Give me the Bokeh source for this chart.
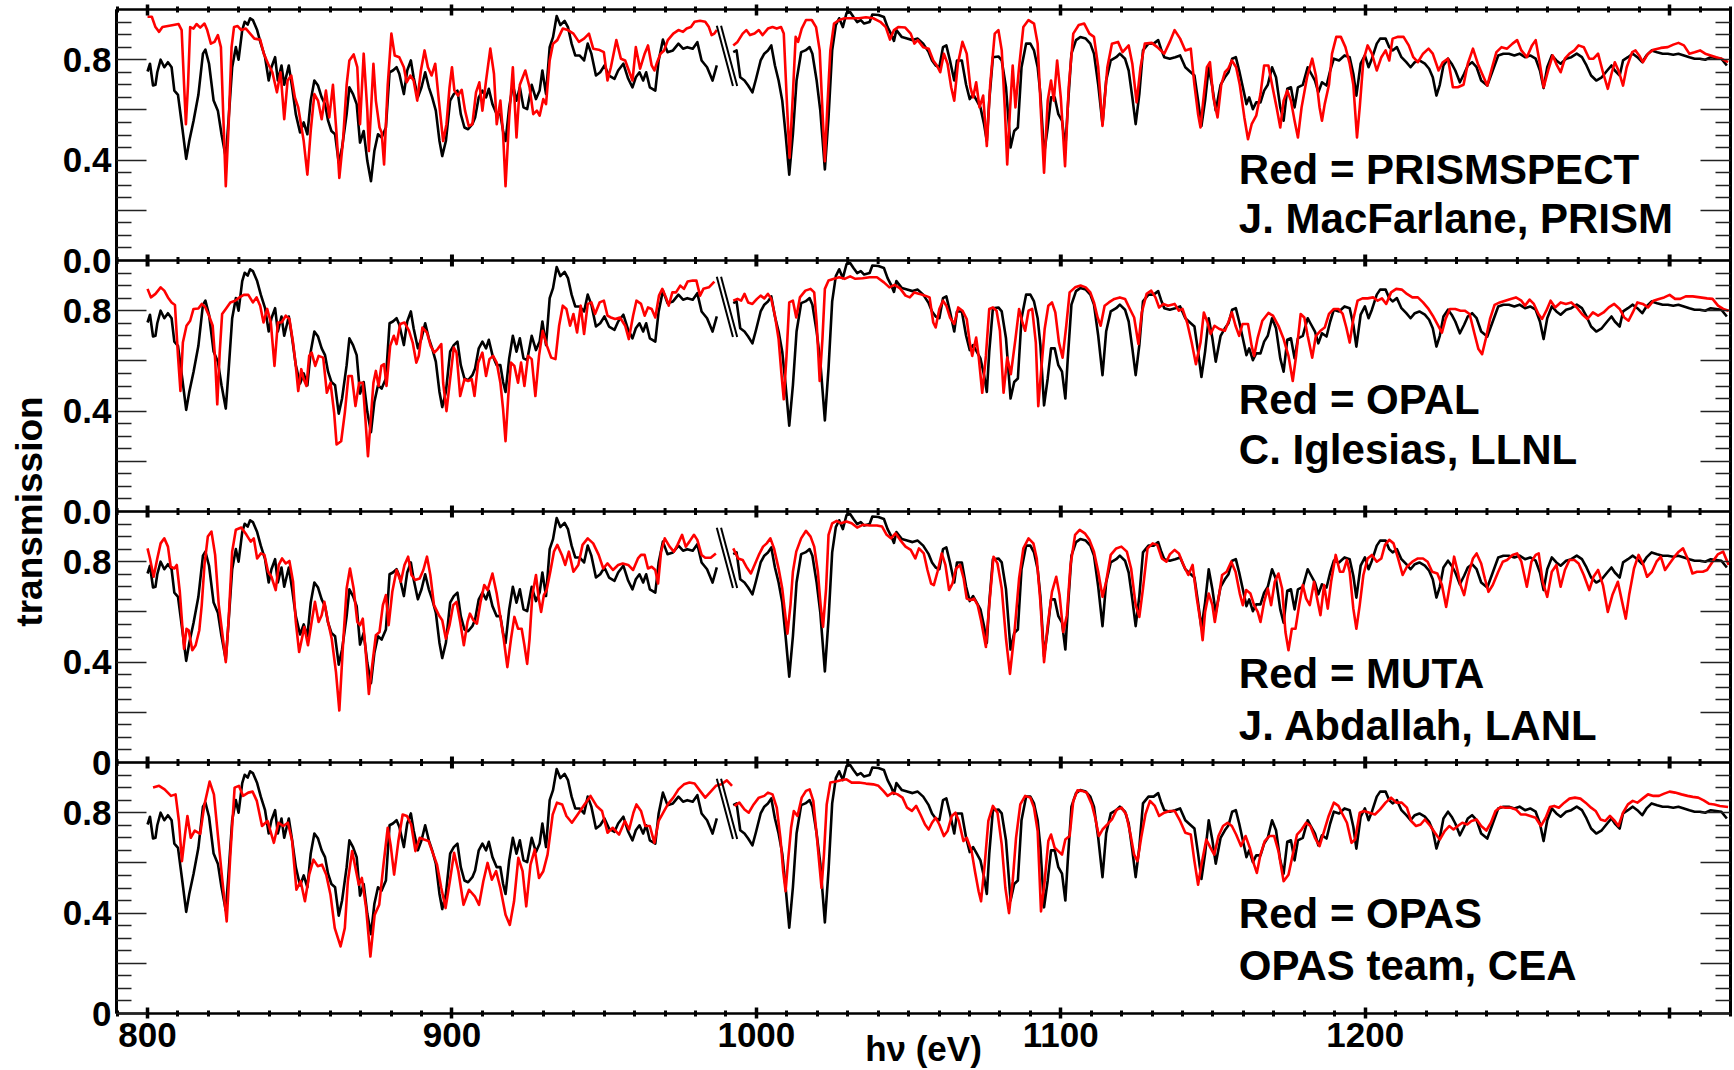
import numpy as np
from bokeh.plotting import figure
from bokeh.models import Range1d, LinearAxis, FixedTicker, Label, Span
from bokeh.embed import file_html
from bokeh.resources import INLINE

NAN = float("nan")
FONT = "Liberation Sans"

# ---------------------------------------------------------------- data
# measured transmission (black), the same spectrum in every panel
MEASURED_E = [
    800.0, 800.8, 801.8, 802.6, 803.2, 804.3, 805.5, 806.7, 807.9, 808.8, 810.0, 811.4, 812.7, 813.7,
    815.1, 816.7, 818.2, 819.0, 820.2, 821.7, 823.1, 824.3, 825.7, 826.6, 827.8, 829.0, 829.9, 831.1,
    831.9, 832.9, 833.7, 834.6, 836.0, 837.2, 838.6, 839.8, 840.7, 841.9, 842.8, 844.0, 844.9, 846.4,
    847.5, 848.7, 850.1, 851.3, 852.5, 853.6, 854.8, 856.0, 857.2, 858.3, 859.3, 860.4, 861.6, 862.8,
    863.9, 865.4, 866.3, 867.5, 868.7, 869.8, 871.0, 872.2, 873.4, 874.5, 875.7, 876.9, 878.3, 879.5,
    880.6, 881.8, 882.7, 884.2, 885.3, 886.5, 887.4, 888.8, 890.0, 891.2, 892.4, 893.5, 894.7, 895.9,
    896.8, 898.0, 899.4, 900.6, 901.8, 902.9, 904.1, 905.3, 906.7, 907.6, 908.8, 910.0, 911.2, 912.1,
    913.3, 914.7, 915.9, 916.8, 917.6, 918.8, 920.0, 921.2, 922.3, 923.5, 924.7, 926.2, 927.6, 928.8,
    929.7, 930.9, 932.1, 933.2, 934.4, 935.6, 937.0, 938.1, 939.3, 940.5, 941.9, 943.4, 944.6, 945.8,
    947.3, 948.7, 950.1, 951.6, 953.4, 954.6, 956.3, 957.9, 959.3, 960.4, 961.6, 962.8, 963.8, 965.0,
    966.8, 967.9, 969.3, 970.8, 972.6, 974.4, 975.9, 977.3, 979.1, 980.6, 982.0, 983.8, 985.6, 987.0,
    NAN,
    992.4, 993.5, 994.7, 996.1, 997.3, 998.7, 999.9, 1001.4, 1002.6, 1003.8, 1004.9, 1006.1, 1007.3,
    1008.5, 1009.6, 1010.8, 1012.0, 1013.2, 1014.7, 1016.1, 1017.5, 1018.4, 1019.8, 1021.0, 1022.5,
    1023.7, 1024.9, 1026.1, 1027.2, 1028.4, 1029.6, 1030.8, 1031.9, 1033.1, 1034.3, 1035.4, 1037.2,
    1038.1, 1040.1, 1041.9, 1043.1, 1044.2, 1045.2, 1046.0, 1047.8, 1049.5, 1051.3, 1053.0, 1054.8,
    1056.6, 1057.7, 1058.9, 1060.1, 1061.3, 1062.4, 1063.6, 1065.0, 1065.9, 1067.5, 1068.9, 1070.1,
    1071.2, 1072.4, 1073.6, 1074.8, 1075.7, 1076.5, 1077.7, 1079.5, 1080.6, 1082.0, 1083.5, 1084.7,
    1085.9, 1087.1, 1088.6, 1090.0, 1091.2, 1092.4, 1093.3, 1094.5, 1095.7, 1096.8, 1098.0, 1099.2,
    1100.4, 1101.5, 1102.3, 1103.5, 1105.0, 1106.4, 1108.2, 1109.7, 1110.9, 1112.3, 1113.7, 1114.9,
    1116.4, 1118.2, 1119.4, 1121.1, 1122.3, 1123.5, 1124.6, 1125.8, 1127.0, 1128.8, 1130.5, 1132.0,
    1132.9, 1134.0, 1135.8, 1137.6, 1139.2, 1140.9, 1142.7, 1143.9, 1145.1, 1146.2, 1147.4, 1148.6,
    1149.8, 1150.9, 1152.5, 1153.9, 1155.1, 1156.3, 1157.5, 1158.6, 1159.8, 1161.0, 1161.9, 1163.1,
    1164.2, 1165.6, 1166.8, 1168.0, 1169.4, 1170.7, 1172.1, 1173.2, 1174.4, 1175.6, 1176.8, 1177.9,
    1179.5, 1181.1, 1182.0, 1183.5, 1184.6, 1185.8, 1187.3, 1188.5, 1189.7, 1191.4, 1193.2, 1194.9,
    1196.1, 1197.1, 1198.5, 1199.9, 1201.1, 1202.2, 1203.8, 1204.9, 1206.7, 1207.9, 1209.0, 1210.4,
    1211.9, 1213.5, 1214.9, 1216.3, 1217.8, 1219.6, 1221.0, 1222.2, 1223.4, 1224.5, 1225.7, 1227.2,
    1228.4, 1229.6, 1231.1, 1232.5, 1233.7, 1235.1, 1236.6, 1238.1, 1240.1, 1241.9, 1243.7, 1245.4,
    1247.2, 1249.0, 1250.7, 1252.5, 1254.2, 1256.0, 1257.4, 1258.6, 1259.8, 1261.3, 1262.8, 1264.2,
    1266.0, 1267.7, 1269.5, 1271.2, 1272.7, 1274.2, 1275.9, 1277.7, 1279.5, 1280.9, 1282.0, 1283.6,
    1284.7, 1286.3, 1287.9, 1289.4, 1291.0, 1292.4, 1294.1, 1295.9, 1297.7, 1299.4, 1301.2, 1302.9,
    1304.7, 1306.5, 1308.2, 1310.0, 1311.7, 1313.5, 1315.3, 1317.0, 1318.8,
]
MEASURED_T = [
    0.753, 0.784, 0.697, 0.700, 0.750, 0.800, 0.770, 0.790, 0.770, 0.677, 0.660, 0.530, 0.405, 0.476,
    0.556, 0.660, 0.824, 0.840, 0.784, 0.637, 0.597, 0.503, 0.410, 0.557, 0.770, 0.850, 0.800, 0.918,
    0.951, 0.940, 0.965, 0.958, 0.918, 0.864, 0.810, 0.717, 0.770, 0.810, 0.717, 0.777, 0.700, 0.777,
    0.690, 0.583, 0.510, 0.550, 0.503, 0.637, 0.717, 0.697, 0.650, 0.623, 0.557, 0.516, 0.503, 0.390,
    0.450, 0.583, 0.690, 0.663, 0.623, 0.470, 0.516, 0.396, 0.316, 0.436, 0.503, 0.490, 0.530, 0.750,
    0.757, 0.770, 0.744, 0.663, 0.757, 0.797, 0.730, 0.650, 0.690, 0.750, 0.690, 0.650, 0.597, 0.476,
    0.416, 0.476, 0.637, 0.663, 0.677, 0.583, 0.530, 0.523, 0.543, 0.570, 0.650, 0.677, 0.650, 0.684,
    0.623, 0.583, 0.583, 0.516, 0.476, 0.610, 0.700, 0.637, 0.690, 0.610, 0.603, 0.700, 0.643, 0.677,
    0.757, 0.663, 0.850, 0.890, 0.974, 0.938, 0.955, 0.930, 0.864, 0.817, 0.817, 0.797, 0.864, 0.824,
    0.737, 0.750, 0.777, 0.737, 0.724, 0.757, 0.784, 0.724, 0.690, 0.730, 0.750, 0.717, 0.750, 0.690,
    0.677, 0.797, 0.880, 0.830, 0.837, 0.864, 0.844, 0.850, 0.844, 0.870, 0.797, 0.770, 0.717, 0.777,
    NAN,
    0.830, 0.837, 0.730, 0.717, 0.697, 0.670, 0.724, 0.797, 0.824, 0.837, 0.857, 0.777, 0.717,
    0.637, 0.503, 0.342, 0.503, 0.717, 0.830, 0.837, 0.850, 0.824, 0.717, 0.597, 0.363,
    0.570, 0.837, 0.938, 0.965, 0.930, 0.985, 0.990, 0.970, 0.950, 0.958, 0.944, 0.950,
    0.980, 0.978, 0.970, 0.930, 0.904, 0.875, 0.918, 0.890, 0.884, 0.878, 0.884, 0.864,
    0.830, 0.797, 0.777, 0.770, 0.850, 0.857, 0.797, 0.717, 0.797, 0.797, 0.700, 0.643,
    0.663, 0.637, 0.610, 0.543, 0.476, 0.637, 0.810, 0.813, 0.797, 0.690, 0.450, 0.516,
    0.530, 0.770, 0.864, 0.864, 0.837, 0.770, 0.663, 0.423, 0.530, 0.650, 0.650, 0.583,
    0.557, 0.450, 0.610, 0.824, 0.878, 0.890, 0.884, 0.864, 0.824, 0.700, 0.543, 0.717,
    0.797, 0.810, 0.824, 0.804, 0.757, 0.650, 0.543, 0.663, 0.837, 0.864, 0.864, 0.878,
    0.844, 0.810, 0.804, 0.810, 0.817, 0.770, 0.750, 0.737, 0.637, 0.536, 0.637, 0.770,
    0.690, 0.597, 0.700, 0.730, 0.750, 0.804, 0.810, 0.757, 0.690, 0.623, 0.650, 0.603,
    0.630, 0.630, 0.677, 0.700, 0.770, 0.730, 0.610, 0.557, 0.684, 0.690, 0.610, 0.690,
    0.700, 0.770, 0.750, 0.717, 0.670, 0.710, 0.697, 0.757, 0.804, 0.797, 0.817, 0.810,
    0.744, 0.657, 0.784, 0.817, 0.770, 0.804, 0.864, 0.884, 0.884, 0.850, 0.837, 0.850,
    0.810, 0.790, 0.770, 0.790, 0.797, 0.784, 0.764, 0.730, 0.657, 0.700, 0.777, 0.804,
    0.784, 0.757, 0.710, 0.744, 0.777, 0.790, 0.770, 0.717, 0.697, 0.757, 0.817, 0.824,
    0.824, 0.817, 0.824, 0.810, 0.817, 0.804, 0.757, 0.687, 0.770, 0.817, 0.797, 0.784,
    0.804, 0.810, 0.824, 0.810, 0.777, 0.737, 0.717, 0.730, 0.757, 0.777, 0.757, 0.737,
    0.797, 0.810, 0.824, 0.810, 0.790, 0.817, 0.837, 0.830, 0.824, 0.824, 0.820, 0.824,
    0.817, 0.810, 0.804, 0.804, 0.800, 0.810, 0.807, 0.804, 0.777,
]

# PRISMSPECT model (red, panel 1)
PRISMSPECT_E = [
    800.0, 801.4, 802.6, 803.8, 804.9, 806.7, 808.5, 810.2, 811.2, 812.0, 812.6, 813.3, 814.0, 815.1,
    816.1, 817.3, 818.7, 819.6, 820.8, 822.0, 823.1, 824.1, 824.9, 825.7, 826.6, 827.6, 828.4, 829.6,
    830.8, 832.3, 833.7, 835.1, 837.0, 838.2, 839.6, 841.0, 842.5, 843.7, 844.9, 846.0, 847.2, 848.4,
    849.5, 851.3, 852.5, 853.6, 854.8, 856.0, 857.2, 858.6, 859.7, 860.9, 862.1, 863.0, 864.2, 865.4,
    866.3, 867.7, 868.9, 869.8, 871.0, 872.2, 872.7, 873.4, 874.2, 875.0, 876.2, 876.9, 877.7, 878.9,
    880.1, 881.2, 882.7, 884.2, 885.1, 886.3, 887.4, 888.6, 889.8, 891.0, 892.1, 893.3, 894.5, 895.7,
    897.1, 898.2, 899.2, 900.0, 900.8, 902.0, 903.2, 904.3, 905.5, 906.7, 907.9, 909.0, 910.0, 911.2,
    912.6, 913.8, 914.7, 915.9, 916.8, 917.6, 918.8, 920.0, 921.2, 922.3, 924.1, 925.5, 926.7, 927.9,
    928.8, 930.0, 930.9, 932.1, 933.2, 934.6, 936.4, 938.1, 939.9, 941.7, 943.4, 945.0, 946.4, 948.2,
    949.9, 951.1, 952.2, 954.0, 955.5, 956.9, 958.1, 959.3, 960.4, 961.8, 963.3, 964.4, 965.6, 966.5,
    967.4, 968.5, 969.7, 970.9, 972.7, 974.4, 975.9, 977.1, 978.5, 979.7, 981.5, 983.2, 984.4, 985.3,
    986.2, 987.0,
    NAN,
    992.4, 993.8, 995.5, 996.7, 997.9, 999.4, 1000.8, 1002.0, 1003.8, 1005.3, 1006.7, 1008.1, 1009.0,
    1010.0, 1010.9, 1012.0, 1012.9, 1013.7, 1014.9, 1016.3, 1018.2, 1019.6, 1020.8, 1021.7, 1022.5,
    1023.3, 1024.3, 1025.5, 1027.2, 1029.0, 1031.3, 1033.7, 1036.0, 1038.4, 1040.7, 1042.5, 1043.9,
    1045.2, 1046.6, 1048.9, 1050.7, 1051.9, 1053.0, 1054.8, 1056.6, 1058.1, 1059.3, 1060.4, 1061.6,
    1062.8, 1064.0, 1065.0, 1066.2, 1067.7, 1069.1, 1070.3, 1071.2, 1072.2, 1073.3, 1074.5, 1075.7,
    1076.8, 1078.3, 1079.5, 1080.6, 1081.6, 1082.4, 1083.3, 1084.2, 1085.1, 1086.3, 1087.7, 1089.4,
    1091.2, 1092.4, 1093.5, 1094.5, 1095.7, 1096.8, 1097.7, 1098.8, 1100.0, 1101.4, 1102.6, 1104.1,
    1105.9, 1107.7, 1109.4, 1110.9, 1112.3, 1113.7, 1115.3, 1116.8, 1118.8, 1120.3, 1122.3, 1123.5,
    1124.9, 1126.2, 1127.6, 1129.9, 1131.7, 1134.0, 1135.8, 1137.4, 1139.2, 1140.9, 1142.7, 1143.9,
    1145.1, 1145.9, 1146.8, 1148.0, 1149.0, 1150.1, 1151.5, 1152.7, 1153.9, 1155.0, 1156.2, 1157.6,
    1158.8, 1160.3, 1161.5, 1162.7, 1164.2, 1165.6, 1166.8, 1168.2, 1169.4, 1170.9, 1172.1, 1173.2,
    1174.4, 1175.6, 1176.8, 1177.9, 1179.1, 1180.9, 1182.6, 1183.8, 1185.0, 1185.8, 1186.7, 1188.1,
    1189.1, 1190.5, 1192.0, 1193.5, 1194.9, 1196.1, 1197.3, 1198.2, 1199.4, 1200.8, 1202.2, 1203.8,
    1205.3, 1206.7, 1207.9, 1209.0, 1210.8, 1212.6, 1214.3, 1215.8, 1217.3, 1219.0, 1220.8, 1222.2,
    1224.1, 1225.5, 1227.2, 1228.8, 1230.4, 1232.3, 1233.7, 1235.4, 1237.0, 1238.4, 1240.1, 1241.7,
    1243.1, 1244.8, 1246.6, 1248.4, 1249.9, 1251.3, 1253.1, 1254.8, 1256.0, 1257.2, 1258.6, 1260.1,
    1261.6, 1263.0, 1264.2, 1265.6, 1267.1, 1268.7, 1270.1, 1271.8, 1273.6, 1275.0, 1276.5, 1278.1,
    1279.7, 1280.9, 1282.0, 1283.2, 1284.7, 1285.9, 1287.7, 1288.8, 1290.0, 1291.2, 1292.9, 1294.7,
    1297.1, 1299.4, 1301.2, 1302.9, 1304.7, 1306.5, 1308.2, 1310.0, 1311.7, 1313.5, 1315.3, 1317.0,
    1319.2,
]
PRISMSPECT_T = [
    0.971, 0.971, 0.930, 0.911, 0.930, 0.934, 0.938, 0.942, 0.918, 0.700, 0.543, 0.700, 0.930, 0.924,
    0.942, 0.928, 0.944, 0.918, 0.864, 0.871, 0.898, 0.850, 0.570, 0.296, 0.530, 0.850, 0.930, 0.934,
    0.918, 0.924, 0.904, 0.884, 0.880, 0.824, 0.784, 0.750, 0.670, 0.750, 0.563, 0.717, 0.737, 0.650,
    0.610, 0.476, 0.342, 0.516, 0.663, 0.637, 0.563, 0.677, 0.570, 0.700, 0.503, 0.329, 0.476, 0.700,
    0.797, 0.821, 0.770, 0.543, 0.824, 0.597, 0.436, 0.597, 0.784, 0.637, 0.530, 0.510, 0.383, 0.700,
    0.904, 0.817, 0.810, 0.770, 0.710, 0.737, 0.717, 0.637, 0.757, 0.837, 0.770, 0.737, 0.784, 0.637,
    0.476, 0.543, 0.690, 0.770, 0.677, 0.657, 0.680, 0.597, 0.536, 0.543, 0.670, 0.710, 0.597, 0.717,
    0.844, 0.744, 0.543, 0.637, 0.503, 0.296, 0.570, 0.770, 0.490, 0.700, 0.757, 0.690, 0.583, 0.597,
    0.577, 0.643, 0.623, 0.797, 0.864, 0.878, 0.924, 0.918, 0.904, 0.871, 0.884, 0.904, 0.844, 0.840,
    0.830, 0.717, 0.770, 0.878, 0.804, 0.797, 0.757, 0.717, 0.850, 0.764, 0.824, 0.857, 0.777, 0.757,
    0.790, 0.824, 0.837, 0.878, 0.904, 0.918, 0.911, 0.924, 0.930, 0.951, 0.955, 0.951, 0.930, 0.898,
    0.904, 0.918,
    NAN,
    0.857, 0.871, 0.904, 0.918, 0.898, 0.904, 0.918, 0.898, 0.924, 0.930, 0.924, 0.930, 0.904,
    0.637, 0.410, 0.663, 0.891, 0.871, 0.924, 0.958, 0.958, 0.930, 0.837, 0.597, 0.396,
    0.610, 0.837, 0.944, 0.958, 0.965, 0.965, 0.965, 0.969, 0.965, 0.951, 0.930, 0.880,
    0.918, 0.930, 0.928, 0.904, 0.864, 0.878, 0.850, 0.844, 0.797, 0.777, 0.750, 0.824,
    0.784, 0.690, 0.637, 0.784, 0.871, 0.824, 0.690, 0.650, 0.710, 0.610, 0.657, 0.456,
    0.700, 0.904, 0.918, 0.837, 0.610, 0.383, 0.597, 0.777, 0.610, 0.770, 0.930, 0.958,
    0.944, 0.864, 0.583, 0.350, 0.637, 0.717, 0.637, 0.797, 0.650, 0.376, 0.690, 0.904,
    0.938, 0.944, 0.904, 0.891, 0.770, 0.536, 0.770, 0.864, 0.871, 0.830, 0.857, 0.784,
    0.630, 0.770, 0.864, 0.867, 0.850, 0.824, 0.871, 0.918, 0.884, 0.837, 0.844, 0.700,
    0.583, 0.530, 0.637, 0.770, 0.790, 0.650, 0.570, 0.700, 0.750, 0.764, 0.797, 0.770,
    0.700, 0.570, 0.483, 0.543, 0.577, 0.663, 0.777, 0.777, 0.700, 0.610, 0.530, 0.637,
    0.677, 0.637, 0.557, 0.490, 0.610, 0.730, 0.804, 0.737, 0.610, 0.557, 0.623, 0.700,
    0.824, 0.891, 0.891, 0.850, 0.784, 0.700, 0.490, 0.610, 0.797, 0.857, 0.824, 0.757,
    0.810, 0.837, 0.797, 0.884, 0.891, 0.891, 0.857, 0.810, 0.790, 0.824, 0.844, 0.824,
    0.757, 0.790, 0.804, 0.690, 0.690, 0.700, 0.784, 0.844, 0.784, 0.744, 0.697, 0.770,
    0.830, 0.850, 0.844, 0.864, 0.878, 0.837, 0.810, 0.857, 0.878, 0.797, 0.690, 0.757,
    0.817, 0.777, 0.750, 0.804, 0.824, 0.837, 0.857, 0.850, 0.804, 0.804, 0.824, 0.750,
    0.684, 0.744, 0.790, 0.757, 0.697, 0.770, 0.830, 0.837, 0.817, 0.790, 0.824, 0.840,
    0.847, 0.850, 0.860, 0.867, 0.857, 0.824, 0.830, 0.837, 0.824, 0.817, 0.810, 0.804,
    0.790,
]

# OPAL model (red, panel 2)
OPAL_E = [
    800.0, 801.1, 802.6, 804.3, 805.5, 806.7, 807.9, 809.0, 810.0, 810.8, 811.6, 812.8, 814.0, 815.1,
    816.7, 817.8, 819.0, 820.2, 821.4, 822.2, 822.9, 823.7, 824.5, 825.7, 827.2, 828.8, 830.2, 831.6,
    833.1, 834.6, 835.8, 837.0, 838.1, 839.3, 840.5, 841.7, 842.8, 844.0, 845.4, 846.6, 847.8, 848.7,
    849.5, 850.5, 851.3, 852.2, 853.1, 853.9, 855.1, 856.2, 857.7, 858.9, 860.1, 861.3, 862.1, 863.6,
    864.8, 866.0, 867.1, 868.3, 869.5, 870.7, 871.5, 872.4, 873.4, 874.2, 875.0, 875.9, 876.8, 877.7,
    878.5, 879.7, 880.9, 881.8, 883.0, 884.4, 885.9, 887.1, 888.3, 889.1, 890.3, 891.8, 893.0, 894.2,
    895.3, 896.5, 897.1, 898.2, 899.4, 900.6, 901.5, 902.7, 904.1, 905.3, 906.5, 907.4, 908.6, 910.0,
    911.2, 912.3, 913.5, 914.7, 915.9, 916.8, 917.6, 918.5, 919.4, 920.5, 921.7, 922.7, 923.8, 925.0,
    926.2, 927.4, 928.6, 929.8, 931.2, 932.6, 934.0, 935.2, 936.4, 937.6, 938.8, 939.9, 941.1, 942.3,
    943.4, 944.6, 945.8, 947.0, 948.5, 949.9, 951.1, 952.2, 953.6, 955.2, 956.9, 958.1, 959.5, 960.6,
    962.1, 963.3, 964.4, 965.6, 966.8, 968.0, 969.1, 970.3, 971.2, 972.4, 973.6, 975.0, 976.2, 977.4,
    979.1, 980.3, 981.5, 982.6, 984.4, 986.2,
    NAN,
    992.4, 993.8, 995.0, 996.1, 997.3, 998.7, 1000.2, 1001.4, 1002.6, 1003.8, 1004.9, 1006.1, 1007.3,
    1008.2, 1009.0, 1009.9, 1010.8, 1012.0, 1013.1, 1014.3, 1016.1, 1017.8, 1019.0, 1019.8, 1020.8,
    1021.7, 1022.5, 1023.7, 1025.5, 1027.2, 1029.0, 1030.8, 1032.5, 1034.9, 1037.2, 1039.6, 1041.9,
    1043.7, 1045.4, 1047.2, 1049.0, 1050.4, 1051.9, 1053.6, 1055.4, 1056.9, 1058.1, 1058.9, 1060.1,
    1061.3, 1062.4, 1063.6, 1065.0, 1066.3, 1067.7, 1069.1, 1070.1, 1070.9, 1072.2, 1073.0, 1074.2,
    1075.4, 1076.5, 1077.7, 1078.9, 1080.0, 1081.2, 1082.4, 1083.6, 1085.1, 1086.3, 1087.4, 1088.3,
    1089.4, 1090.6, 1091.8, 1092.6, 1093.5, 1094.7, 1095.9, 1097.1, 1098.2, 1099.4, 1100.6, 1101.8,
    1102.9, 1104.7, 1106.5, 1108.2, 1109.7, 1110.9, 1112.1, 1113.1, 1114.4, 1115.8, 1117.6, 1119.4,
    1121.1, 1122.7, 1124.1, 1125.5, 1126.6, 1128.2, 1129.7, 1131.1, 1132.3, 1133.7, 1135.2, 1137.4,
    1138.8, 1140.0, 1141.5, 1143.0, 1144.4, 1145.9, 1147.0, 1148.2, 1149.2, 1150.5, 1152.1, 1153.9,
    1155.0, 1156.2, 1157.4, 1158.6, 1159.7, 1161.5, 1162.7, 1163.5, 1164.7, 1166.2, 1168.2, 1169.7,
    1171.5, 1173.2, 1174.8, 1176.2, 1177.3, 1178.8, 1180.0, 1181.1, 1182.6, 1183.8, 1185.3, 1186.7,
    1188.1, 1189.7, 1191.2, 1192.6, 1193.8, 1194.9, 1196.1, 1197.5, 1199.1, 1200.8, 1202.6, 1204.1,
    1205.5, 1206.9, 1208.5, 1210.2, 1212.0, 1213.7, 1215.5, 1217.3, 1219.0, 1220.8, 1222.2, 1223.7,
    1225.2, 1226.4, 1227.8, 1229.6, 1231.3, 1232.7, 1234.3, 1235.8, 1237.2, 1238.4, 1239.6, 1241.0,
    1242.5, 1244.2, 1246.0, 1247.8, 1249.5, 1251.3, 1252.5, 1254.0, 1255.4, 1256.9, 1258.1, 1259.5,
    1260.9, 1262.4, 1264.2, 1265.9, 1267.7, 1269.5, 1271.2, 1273.0, 1274.8, 1276.5, 1278.3, 1280.0,
    1281.8, 1283.6, 1285.1, 1286.5, 1287.9, 1289.4, 1291.2, 1292.9, 1294.7, 1296.5, 1298.2, 1300.0,
    1301.8, 1303.5, 1305.3, 1307.6, 1310.0, 1312.3, 1314.1, 1315.9, 1317.6, 1319.4,
]
OPAL_T = [
    0.887, 0.853, 0.867, 0.893, 0.880, 0.853, 0.833, 0.823, 0.620, 0.480, 0.673, 0.740, 0.760, 0.807,
    0.809, 0.827, 0.813, 0.780, 0.740, 0.607, 0.427, 0.633, 0.787, 0.807, 0.833, 0.840, 0.853, 0.863,
    0.863, 0.833, 0.853, 0.820, 0.753, 0.807, 0.753, 0.580, 0.753, 0.753, 0.780, 0.767, 0.673, 0.580,
    0.480, 0.567, 0.527, 0.500, 0.620, 0.633, 0.580, 0.620, 0.613, 0.473, 0.513, 0.393, 0.267, 0.280,
    0.393, 0.540, 0.540, 0.420, 0.513, 0.513, 0.380, 0.220, 0.380, 0.513, 0.560, 0.500, 0.580, 0.587,
    0.500, 0.660, 0.700, 0.667, 0.747, 0.753, 0.720, 0.673, 0.593, 0.620, 0.733, 0.713, 0.660, 0.633,
    0.647, 0.667, 0.513, 0.400, 0.527, 0.653, 0.633, 0.460, 0.527, 0.520, 0.527, 0.460, 0.593, 0.633,
    0.540, 0.607, 0.620, 0.593, 0.513, 0.407, 0.280, 0.460, 0.593, 0.580, 0.513, 0.593, 0.500, 0.620,
    0.607, 0.460, 0.620, 0.720, 0.660, 0.613, 0.607, 0.740, 0.820, 0.807, 0.740, 0.787, 0.713, 0.820,
    0.707, 0.827, 0.833, 0.787, 0.833, 0.840, 0.780, 0.773, 0.767, 0.773, 0.740, 0.687, 0.780, 0.840,
    0.827, 0.780, 0.813, 0.807, 0.773, 0.860, 0.887, 0.853, 0.820, 0.873, 0.873, 0.900, 0.887, 0.916,
    0.920, 0.920, 0.860, 0.887, 0.893, 0.916,
    NAN,
    0.840, 0.847, 0.840, 0.867, 0.833, 0.827, 0.847, 0.860, 0.849, 0.867, 0.847, 0.780, 0.687,
    0.553, 0.447, 0.620, 0.833, 0.840, 0.773, 0.853, 0.880, 0.887, 0.873, 0.753, 0.520,
    0.687, 0.887, 0.920, 0.927, 0.933, 0.927, 0.937, 0.927, 0.929, 0.933, 0.933, 0.913,
    0.893, 0.903, 0.889, 0.860, 0.853, 0.873, 0.867, 0.860, 0.853, 0.753, 0.733, 0.807,
    0.840, 0.820, 0.773, 0.747, 0.813, 0.800, 0.767, 0.673, 0.620, 0.693, 0.620, 0.473,
    0.620, 0.807, 0.813, 0.800, 0.720, 0.473, 0.613, 0.547, 0.687, 0.807, 0.753, 0.720,
    0.800, 0.807, 0.673, 0.420, 0.553, 0.727, 0.820, 0.833, 0.793, 0.673, 0.613, 0.740,
    0.873, 0.893, 0.900, 0.893, 0.873, 0.833, 0.773, 0.740, 0.820, 0.833, 0.847, 0.853,
    0.847, 0.807, 0.773, 0.667, 0.793, 0.867, 0.880, 0.853, 0.813, 0.827, 0.820, 0.827,
    0.800, 0.807, 0.753, 0.673, 0.587, 0.673, 0.793, 0.753, 0.707, 0.740, 0.727, 0.720,
    0.753, 0.793, 0.740, 0.700, 0.747, 0.747, 0.660, 0.620, 0.693, 0.760, 0.791, 0.780,
    0.740, 0.687, 0.620, 0.520, 0.620, 0.787, 0.773, 0.700, 0.613, 0.700, 0.720, 0.733,
    0.787, 0.807, 0.807, 0.787, 0.733, 0.673, 0.767, 0.840, 0.849, 0.849, 0.853, 0.840,
    0.849, 0.827, 0.873, 0.887, 0.884, 0.867, 0.853, 0.853, 0.833, 0.807, 0.780, 0.747,
    0.713, 0.767, 0.807, 0.807, 0.800, 0.800, 0.787, 0.713, 0.647, 0.627, 0.687, 0.767,
    0.823, 0.833, 0.840, 0.847, 0.853, 0.840, 0.820, 0.844, 0.827, 0.787, 0.767, 0.800,
    0.840, 0.813, 0.833, 0.827, 0.833, 0.813, 0.787, 0.767, 0.793, 0.780, 0.793, 0.813,
    0.827, 0.807, 0.773, 0.760, 0.793, 0.833, 0.827, 0.813, 0.840, 0.847, 0.853, 0.863,
    0.847, 0.847, 0.857, 0.857, 0.853, 0.849, 0.847, 0.820, 0.807, 0.800,
]

# MUTA model (red, panel 3)
MUTA_E = [
    800.0, 800.8, 802.0, 803.2, 804.3, 805.5, 806.7, 807.6, 808.8, 809.6, 810.6, 811.4, 812.0, 812.8,
    813.5, 814.7, 815.8, 817.0, 817.8, 818.7, 819.8, 821.0, 822.2, 823.4, 824.5, 825.7, 826.6, 827.8,
    829.0, 830.8, 832.5, 833.9, 834.9, 836.0, 837.2, 838.4, 839.6, 840.7, 842.1, 843.1, 844.2, 845.4,
    846.6, 847.8, 848.7, 849.8, 850.7, 851.5, 852.7, 853.9, 855.0, 856.2, 857.2, 858.1, 859.3, 860.5,
    861.9, 863.0, 864.2, 865.4, 866.5, 867.7, 868.9, 869.8, 870.7, 871.6, 872.7, 873.8, 875.0, 876.2,
    877.3, 878.3, 879.2, 880.4, 881.8, 883.2, 884.4, 885.6, 886.7, 887.9, 889.4, 890.6, 891.8, 892.9,
    894.1, 895.7, 896.8, 898.0, 899.2, 900.4, 901.5, 902.7, 903.9, 905.1, 905.9, 907.0, 908.2, 909.4,
    910.6, 911.7, 913.3, 914.7, 915.9, 917.0, 918.2, 919.4, 920.5, 921.7, 922.9, 923.8, 924.7, 925.5,
    926.4, 927.6, 928.5, 929.3, 930.2, 931.1, 932.3, 933.5, 934.6, 936.1, 937.2, 938.4, 939.9, 941.5,
    942.9, 944.6, 946.4, 948.2, 949.7, 951.1, 952.9, 954.6, 956.1, 957.9, 959.5, 961.1,
    962.1, 963.3, 964.4, 965.6, 966.8, 967.7, 968.7, 969.9, 971.5, 972.9, 974.1, 975.6, 976.8, 978.0,
    979.5, 980.6, 982.0, 983.2, 985.0, 986.7,
    NAN,
    992.4, 994.0, 995.5, 996.7, 998.2, 999.4, 1000.8, 1002.2, 1003.4, 1004.6, 1005.8, 1007.3, 1008.5,
    1009.5, 1010.2, 1011.2, 1012.0, 1013.1, 1014.7, 1016.3, 1017.8, 1019.0, 1020.2, 1021.1, 1021.9,
    1022.9, 1023.7, 1024.9, 1026.4, 1027.8, 1029.6, 1031.3, 1033.1, 1034.9, 1037.2, 1039.6, 1041.3,
    1042.8, 1044.2, 1045.7, 1047.2, 1049.0, 1050.7, 1052.2, 1053.4, 1055.0, 1056.2, 1057.4, 1058.3,
    1059.5, 1060.9, 1062.1, 1063.3, 1064.4, 1065.6, 1066.9, 1068.1, 1069.1, 1070.3, 1071.5, 1072.7,
    1073.8, 1075.4, 1076.5, 1077.9, 1079.2, 1080.6, 1082.0, 1083.3, 1084.7, 1086.3, 1087.7, 1089.4,
    1091.0, 1092.1, 1093.3, 1094.5, 1095.7, 1097.1, 1098.5, 1099.6, 1100.8, 1102.0, 1103.2, 1104.7,
    1106.2, 1107.9, 1109.4, 1110.9, 1112.3, 1113.7, 1114.9, 1116.4, 1118.2, 1119.9, 1121.7, 1123.1,
    1124.6, 1125.8, 1127.0, 1128.5, 1130.2, 1131.7, 1133.2, 1134.7, 1135.8, 1137.4, 1138.8, 1140.3,
    1141.9, 1143.3, 1144.7, 1145.9, 1146.6, 1147.4, 1148.6, 1149.8, 1150.6, 1151.8, 1153.0, 1154.5,
    1156.0, 1157.4, 1158.8, 1159.8, 1160.9, 1162.3, 1163.5, 1164.7, 1165.6, 1166.8, 1168.0, 1169.1,
    1170.3, 1171.5, 1172.7, 1173.8, 1174.8, 1175.9, 1177.1, 1178.3, 1179.5, 1180.6, 1181.8, 1183.2,
    1184.2, 1185.3, 1186.5, 1187.7, 1188.8, 1190.3, 1191.7, 1192.8, 1194.0, 1194.9, 1196.1, 1197.1,
    1198.2, 1199.4, 1200.8, 1202.2, 1203.8, 1205.3, 1206.5, 1207.9, 1209.3, 1210.8, 1212.3, 1213.7,
    1215.5, 1217.3, 1219.0, 1220.5, 1222.0, 1223.7, 1225.2, 1226.6, 1228.1, 1229.2, 1230.4, 1231.3,
    1232.5, 1233.7, 1235.4, 1236.6, 1238.1, 1239.3, 1240.5, 1241.9, 1243.7, 1245.2, 1246.6, 1248.4,
    1249.9, 1251.3, 1253.1, 1254.6, 1256.0, 1257.0, 1258.3, 1259.8, 1261.3, 1262.8, 1264.2, 1265.6,
    1267.1, 1268.7, 1270.1, 1271.8, 1273.6, 1275.0, 1276.5, 1278.1, 1279.7, 1281.2, 1283.0, 1284.4,
    1285.6, 1286.7, 1288.3, 1289.8, 1291.2, 1292.6, 1294.2, 1295.7, 1297.1, 1298.5, 1300.0, 1301.6,
    1303.0, 1304.4, 1305.9, 1307.5, 1309.0, 1310.9, 1312.3, 1314.1, 1315.8, 1317.6, 1319.4,
]
MUTA_T = [
    0.853, 0.813, 0.740, 0.813, 0.873, 0.893, 0.860, 0.780, 0.773, 0.787, 0.680, 0.547, 0.453, 0.533,
    0.527, 0.447, 0.467, 0.527, 0.627, 0.787, 0.900, 0.920, 0.827, 0.627, 0.520, 0.400, 0.560, 0.840,
    0.927, 0.936, 0.907, 0.880, 0.893, 0.813, 0.833, 0.827, 0.760, 0.740, 0.687, 0.787, 0.813, 0.793,
    0.803, 0.720, 0.560, 0.440, 0.493, 0.540, 0.467, 0.560, 0.640, 0.560, 0.587, 0.640, 0.560, 0.493,
    0.360, 0.207, 0.467, 0.693, 0.773, 0.693, 0.560, 0.547, 0.573, 0.453, 0.273, 0.387, 0.507, 0.520,
    0.627, 0.667, 0.547, 0.680, 0.767, 0.720, 0.787, 0.820, 0.747, 0.727, 0.733, 0.767, 0.820, 0.747,
    0.627, 0.587, 0.567, 0.493, 0.547, 0.627, 0.640, 0.560, 0.467, 0.560, 0.593, 0.567, 0.553, 0.640,
    0.707, 0.687, 0.753, 0.673, 0.580, 0.493, 0.380, 0.493, 0.580, 0.533, 0.533, 0.467, 0.393, 0.493,
    0.667, 0.747, 0.653, 0.600, 0.667, 0.687, 0.760, 0.840, 0.867, 0.827, 0.787, 0.840, 0.760, 0.787,
    0.867, 0.893, 0.873, 0.827, 0.773, 0.793, 0.767, 0.787, 0.793, 0.787, 0.767, 0.813,
    0.827, 0.827, 0.773, 0.780, 0.767, 0.713, 0.840, 0.893, 0.860, 0.840, 0.867, 0.907, 0.860, 0.880,
    0.907, 0.887, 0.827, 0.816, 0.816, 0.833,
    NAN,
    0.853, 0.813, 0.807, 0.780, 0.753, 0.787, 0.827, 0.860, 0.873, 0.893, 0.853, 0.773, 0.693,
    0.587, 0.513, 0.627, 0.760, 0.840, 0.893, 0.923, 0.900, 0.860, 0.760, 0.627, 0.540,
    0.693, 0.907, 0.953, 0.963, 0.953, 0.960, 0.953, 0.936, 0.947, 0.944, 0.944, 0.940,
    0.907, 0.893, 0.913, 0.887, 0.860, 0.847, 0.813, 0.853, 0.833, 0.767, 0.713, 0.707,
    0.760, 0.833, 0.787, 0.687, 0.713, 0.773, 0.787, 0.733, 0.653, 0.647, 0.653, 0.627,
    0.567, 0.460, 0.627, 0.820, 0.793, 0.693, 0.493, 0.353, 0.507, 0.733, 0.853, 0.893,
    0.873, 0.813, 0.640, 0.400, 0.547, 0.680, 0.740, 0.667, 0.520, 0.587, 0.787, 0.907,
    0.927, 0.913, 0.887, 0.840, 0.760, 0.660, 0.720, 0.827, 0.853, 0.860, 0.840, 0.773,
    0.627, 0.580, 0.693, 0.853, 0.873, 0.867, 0.813, 0.800, 0.829, 0.847, 0.833, 0.787,
    0.747, 0.787, 0.653, 0.560, 0.487, 0.600, 0.673, 0.627, 0.560, 0.653, 0.747, 0.760,
    0.800, 0.760, 0.673, 0.627, 0.687, 0.673, 0.627, 0.600, 0.560, 0.640, 0.693, 0.627,
    0.720, 0.753, 0.693, 0.520, 0.447, 0.533, 0.533, 0.627, 0.707, 0.653, 0.627, 0.720,
    0.653, 0.587, 0.707, 0.613, 0.720, 0.827, 0.760, 0.760, 0.807, 0.760, 0.613, 0.533,
    0.627, 0.747, 0.813, 0.827, 0.800, 0.813, 0.867, 0.887, 0.873, 0.813, 0.747, 0.780,
    0.800, 0.813, 0.813, 0.800, 0.760, 0.753, 0.707, 0.620, 0.727, 0.820, 0.760, 0.707,
    0.667, 0.740, 0.813, 0.833, 0.793, 0.733, 0.680, 0.707, 0.760, 0.800, 0.807, 0.827,
    0.833, 0.800, 0.700, 0.800, 0.827, 0.833, 0.720, 0.660, 0.760, 0.787, 0.700, 0.767,
    0.807, 0.807, 0.793, 0.747, 0.687, 0.740, 0.767, 0.707, 0.600, 0.667, 0.720, 0.640,
    0.573, 0.667, 0.773, 0.827, 0.793, 0.740, 0.760, 0.800, 0.820, 0.767, 0.793, 0.820,
    0.840, 0.853, 0.813, 0.753, 0.760, 0.760, 0.767, 0.800, 0.829, 0.840, 0.787,
]

# OPAS model (red, panel 4)
OPAS_E = [
    801.8, 803.8, 805.6, 807.7, 809.2, 810.3, 811.3, 812.3, 813.1, 814.2, 815.5, 817.3, 818.7, 820.4,
    821.8, 823.2, 824.6, 826.0, 827.2, 828.6, 830.0, 831.4, 833.1, 834.5, 835.9, 837.6, 839.4, 841.5,
    843.0, 844.6, 846.1, 847.5, 848.9, 850.3, 851.7, 853.1, 854.5, 855.9, 857.3, 858.7, 860.1, 861.5,
    863.4, 864.8, 865.8, 867.2, 868.3, 869.4, 870.4, 871.8, 873.2, 874.6, 876.1, 877.5, 878.9, 879.9,
    881.0, 882.4, 883.8, 885.2, 886.6, 888.0, 889.4, 890.8, 892.3, 893.7, 895.1, 896.5, 897.9, 899.3,
    900.7, 902.1, 903.8, 905.6, 907.5, 908.9, 910.3, 911.7, 913.1, 914.5, 915.9, 917.6, 919.0, 920.4,
    921.8, 923.2, 924.4, 925.8, 927.2, 928.6, 930.0, 931.4, 933.1, 934.5, 936.2, 937.6, 939.4, 941.3,
    943.2, 945.5, 947.5, 949.3, 951.1, 952.8, 954.9, 956.8, 958.2, 959.6, 960.6,
    962.1, 963.5, 965.0, 966.5, 967.9, 969.4, 970.9, 972.7, 974.4, 976.2, 978.0, 979.7, 981.5, 983.2,
    985.0, 986.7, 988.5, 990.3, 992.0,
    NAN,
    992.8, 994.4, 996.1, 997.5, 999.1, 1000.8, 1002.6, 1003.8, 1005.3, 1006.7, 1007.9, 1008.8, 1009.6,
    1010.4, 1011.4, 1012.3, 1013.5, 1014.9, 1016.3, 1017.5, 1018.7, 1019.8, 1020.8, 1021.4, 1022.2,
    1023.1, 1024.3, 1026.1, 1027.8, 1029.6, 1031.3, 1033.7, 1036.0, 1038.4, 1040.1, 1041.7, 1043.1,
    1044.8, 1046.4, 1048.0, 1049.5, 1051.1, 1052.5, 1053.9, 1055.4, 1056.6, 1057.7, 1058.9, 1060.1,
    1061.6, 1062.8, 1064.2, 1065.4, 1066.5, 1068.0, 1069.1, 1070.7, 1071.8, 1073.0, 1073.8, 1075.0,
    1076.2, 1077.7, 1079.2, 1080.6, 1081.8, 1083.0, 1084.2, 1085.3, 1086.7, 1088.3, 1090.0, 1091.2,
    1092.4, 1093.5, 1094.7, 1095.9, 1096.8, 1098.0, 1099.2, 1100.4, 1101.5, 1102.9, 1104.1, 1105.5,
    1107.0, 1108.5, 1110.2, 1111.3, 1112.5, 1113.7, 1115.3, 1116.8, 1118.4, 1120.0, 1121.5, 1122.9,
    1124.1, 1125.2, 1126.4, 1127.8, 1129.3, 1130.9, 1132.3, 1134.0, 1135.8, 1137.4, 1139.2, 1140.9,
    1142.7, 1143.9, 1145.1, 1146.2, 1147.8, 1149.2, 1150.4, 1151.8, 1153.3, 1154.8, 1156.2, 1157.6,
    1159.2, 1160.7, 1162.1, 1163.5, 1164.4, 1165.6, 1167.0, 1168.5, 1170.1, 1171.5, 1173.2, 1174.8,
    1176.2, 1177.6, 1179.1, 1180.6, 1182.0, 1183.5, 1185.0, 1186.5, 1188.0, 1189.7, 1191.2, 1192.6,
    1194.0, 1195.5, 1196.7, 1198.2, 1199.6, 1201.4, 1203.2, 1204.9, 1206.7, 1208.5, 1210.2, 1212.0,
    1213.7, 1215.1, 1216.7, 1218.2, 1219.6, 1221.4, 1222.9, 1224.5, 1226.1, 1227.6, 1229.0, 1230.4,
    1231.9, 1233.5, 1234.9, 1236.6, 1238.1, 1239.8, 1241.3, 1242.8, 1244.5, 1246.0, 1247.8, 1249.5,
    1251.1, 1252.7, 1254.2, 1256.0, 1257.7, 1259.3, 1260.7, 1262.1, 1263.6, 1265.4, 1267.1, 1268.9,
    1270.7, 1272.4, 1274.2, 1275.7, 1277.3, 1278.9, 1280.4, 1282.0, 1283.2, 1284.7, 1286.3, 1287.9,
    1289.4, 1291.2, 1292.9, 1294.7, 1296.5, 1298.2, 1300.0, 1301.8, 1303.9, 1305.9, 1307.6, 1309.4,
    1311.2, 1312.9, 1314.7, 1316.5, 1319.2,
]
OPAS_T = [
    0.900, 0.907, 0.893, 0.867, 0.873, 0.767, 0.607, 0.713, 0.787, 0.700, 0.729, 0.716, 0.833, 0.924,
    0.873, 0.700, 0.527, 0.367, 0.633, 0.900, 0.907, 0.867, 0.880, 0.884, 0.847, 0.747, 0.767, 0.680,
    0.760, 0.747, 0.760, 0.687, 0.493, 0.527, 0.447, 0.553, 0.613, 0.587, 0.593, 0.553, 0.473, 0.340,
    0.267, 0.340, 0.527, 0.647, 0.580, 0.513, 0.540, 0.420, 0.227, 0.393, 0.433, 0.593, 0.740, 0.667,
    0.553, 0.687, 0.793, 0.787, 0.753, 0.647, 0.700, 0.693, 0.687, 0.640, 0.593, 0.500, 0.420, 0.527,
    0.640, 0.567, 0.433, 0.493, 0.467, 0.433, 0.527, 0.600, 0.533, 0.567, 0.500, 0.393, 0.353, 0.447,
    0.620, 0.567, 0.427, 0.593, 0.653, 0.540, 0.567, 0.633, 0.793, 0.840, 0.833, 0.787, 0.760, 0.793,
    0.827, 0.867, 0.827, 0.807, 0.720, 0.740, 0.713, 0.767, 0.733, 0.800, 0.833,
    0.807, 0.747, 0.747, 0.680, 0.767, 0.800, 0.833, 0.860, 0.893, 0.913, 0.920, 0.916, 0.887, 0.860,
    0.884, 0.907, 0.913, 0.929, 0.907,
    NAN,
    0.827, 0.840, 0.813, 0.800, 0.833, 0.860, 0.867, 0.880, 0.873, 0.820, 0.700, 0.567, 0.487,
    0.607, 0.740, 0.807, 0.787, 0.860, 0.887, 0.893, 0.847, 0.713, 0.580, 0.500, 0.633,
    0.833, 0.920, 0.924, 0.929, 0.933, 0.920, 0.920, 0.916, 0.913, 0.907, 0.887, 0.867,
    0.880, 0.873, 0.860, 0.820, 0.807, 0.827, 0.793, 0.753, 0.733, 0.760, 0.780, 0.753,
    0.707, 0.727, 0.787, 0.800, 0.767, 0.687, 0.700, 0.647, 0.567, 0.487, 0.447, 0.593,
    0.767, 0.827, 0.800, 0.673, 0.500, 0.400, 0.527, 0.700, 0.833, 0.867, 0.860, 0.820,
    0.727, 0.407, 0.527, 0.687, 0.713, 0.660, 0.647, 0.633, 0.693, 0.707, 0.847, 0.889,
    0.887, 0.880, 0.833, 0.780, 0.707, 0.733, 0.753, 0.773, 0.813, 0.820, 0.793, 0.713,
    0.633, 0.607, 0.700, 0.793, 0.847, 0.827, 0.787, 0.800, 0.807, 0.807, 0.767, 0.720,
    0.713, 0.607, 0.513, 0.593, 0.693, 0.660, 0.633, 0.707, 0.747, 0.760, 0.747, 0.713,
    0.667, 0.707, 0.660, 0.593, 0.560, 0.633, 0.687, 0.707, 0.707, 0.647, 0.527, 0.553,
    0.633, 0.713, 0.733, 0.760, 0.747, 0.700, 0.667, 0.727, 0.787, 0.840, 0.827, 0.793,
    0.760, 0.680, 0.693, 0.800, 0.807, 0.800, 0.793, 0.813, 0.840, 0.860, 0.840, 0.840,
    0.820, 0.767, 0.747, 0.753, 0.773, 0.747, 0.720, 0.693, 0.727, 0.747, 0.733, 0.747,
    0.760, 0.753, 0.767, 0.773, 0.747, 0.729, 0.760, 0.807, 0.823, 0.820, 0.820, 0.813,
    0.793, 0.793, 0.787, 0.780, 0.747, 0.780, 0.823, 0.827, 0.820, 0.840, 0.856, 0.860,
    0.856, 0.840, 0.820, 0.807, 0.773, 0.767, 0.787, 0.767, 0.747, 0.800, 0.833, 0.847,
    0.840, 0.857, 0.873, 0.867, 0.867, 0.876, 0.884, 0.880, 0.873, 0.867, 0.863, 0.860,
    0.849, 0.836, 0.833, 0.827, 0.823,
]

# panels, top to bottom
PANEL_MODELS = [PRISMSPECT_E, OPAL_E, MUTA_E, OPAS_E]
PANEL_MODEL_T = [PRISMSPECT_T, OPAL_T, MUTA_T, OPAS_T]
PANEL_TITLES = ["Red = PRISMSPECT", "Red = OPAL", "Red = MUTA", "Red = OPAS"]
PANEL_CREDITS = ["J. MacFarlane, PRISM", "C. Iglesias, LLNL", "J. Abdallah, LANL", "OPAS team, CEA"]
PANEL_ZERO_LABELS = ["0.0", "0.0", "0", "0"]
TITLE_Y = [0.364, 0.448, 0.354, 0.399]
CREDIT_Y = [0.166, 0.246, 0.148, 0.193]

# axis-break marks drawn after the gap in the measured spectrum
BREAK_X0 = [987.0, 988.4]
BREAK_X1 = [992.3, 993.7]
BREAK_Y0 = 0.935
BREAK_Y1 = 0.695

X_TICKS = [800, 900, 1000, 1100, 1200, 1300]
X_TICK_LABELS = ["800", "900", "1000", "1100", "1200", ""]
Y_TICKS_LOCAL = [0.0, 0.2, 0.4, 0.6, 0.8]
Y_TICK_LABELS_LOCAL = [None, "", "0.4", "", "0.8"]

# ---------------------------------------------------------------- figure
N = len(PANEL_TITLES)
p = figure(
    width=1734, height=1070, output_backend="svg", toolbar_location=None,
    x_range=Range1d(789.8, 1320.0), y_range=Range1d(0, N),
    min_border_left=116, min_border_right=4, min_border_top=9, min_border_bottom=57,
    background_fill_color="white", border_fill_color="white",
)
p.grid.visible = False
p.outline_line_color = "black"
p.outline_line_width = 2

# stacked y ticks: panel i (top = 0) occupies [N-1-i, N-i] of the main range
y_major, y_minor, y_over = [], [], {}
for i in range(N):
    base = N - 1 - i
    for v, lab in zip(Y_TICKS_LOCAL, Y_TICK_LABELS_LOCAL):
        t = round(base + v, 3)
        y_major.append(t)
        y_over[t] = PANEL_ZERO_LABELS[i] if lab is None else lab
    for j in range(1, 20):
        if j % 4:
            y_minor.append(round(base + 0.05 * j, 3))

x_minor = [e for e in range(790, 1321, 10) if e % 100]
x_over = {t: s for t, s in zip(X_TICKS, X_TICK_LABELS)}

ax_left = p.yaxis[0]
ax_left.ticker = FixedTicker(ticks=y_major, minor_ticks=y_minor)
ax_left.major_label_overrides = y_over
ax_left.axis_label = "transmission"
ax_left.axis_label_text_font = FONT
ax_left.axis_label_text_font_style = "bold"
ax_left.axis_label_text_font_size = "37px"
ax_left.axis_label_text_color = "black"
ax_left.axis_label_standoff = 10
ax_left.axis_line_width = 3

ax_right = LinearAxis(ticker=FixedTicker(ticks=y_major, minor_ticks=y_minor))
ax_right.major_label_overrides = {t: "" for t in y_major}
ax_right.major_label_text_font_size = "0px"
ax_right.major_label_standoff = 0
ax_right.axis_line_width = 3
p.add_layout(ax_right, "right")

for ax in (ax_left, ax_right):
    ax.major_tick_in = 30
    ax.major_tick_out = 0
    ax.minor_tick_in = 15
    ax.minor_tick_out = 0
    ax.major_tick_line_width = 1.5
    ax.minor_tick_line_width = 1.5
    ax.major_tick_line_color = "#222222"
    ax.minor_tick_line_color = "#222222"

# the energy title sits level with the tick labels; the empty trailing line with a
# negative line height keeps the axis panel inside the bottom border
ax_bottom = p.xaxis[0]
ax_bottom.ticker = FixedTicker(ticks=X_TICKS, minor_ticks=x_minor)
ax_bottom.major_label_overrides = x_over
ax_bottom.axis_label = "hν (eV)\n"
ax_bottom.axis_label_text_font = FONT
ax_bottom.axis_label_text_font_style = "bold"
ax_bottom.axis_label_text_font_size = "35px"
ax_bottom.axis_label_text_color = "black"
ax_bottom.axis_label_text_line_height = -0.35
ax_bottom.axis_label_standoff = -21

ax_top = LinearAxis(ticker=FixedTicker(ticks=X_TICKS, minor_ticks=x_minor))
ax_top.major_label_overrides = {t: "" for t in X_TICKS}
ax_top.major_label_text_font_size = "0px"
ax_top.major_label_standoff = 0
p.add_layout(ax_top, "above")

for ax in (ax_bottom, ax_top):
    ax.axis_line_width = 2
    ax.major_tick_in = 6
    ax.major_tick_out = 5
    ax.minor_tick_in = 3
    ax.minor_tick_out = 3
    ax.major_tick_line_width = 3.5
    ax.minor_tick_line_width = 3

for ax in (ax_left, ax_bottom):
    ax.major_label_text_font = FONT
    ax.major_label_text_font_style = "bold"
    ax.major_label_text_font_size = "35px"
    ax.major_label_text_color = "black"
ax_left.major_label_standoff = 5
ax_bottom.major_label_standoff = 4

# separators between stacked panels, with the energy ticks along them
for k in range(1, N):
    p.add_layout(Span(location=k, dimension="width", line_color="black", line_width=2.5))
sep_levels = list(range(1, N))
p.rect(x=[e for e in x_minor for _ in sep_levels], y=[k for _ in x_minor for k in sep_levels],
       width=3, height=7, width_units="screen", height_units="screen",
       fill_color="black", line_color=None)
p.rect(x=[e for e in X_TICKS for _ in sep_levels], y=[k for _ in X_TICKS for k in sep_levels],
       width=4, height=12, width_units="screen", height_units="screen",
       fill_color="black", line_color=None)

# ---------------------------------------------------------------- curves
ranges = {}
for i in range(N):
    ranges[f"panel{i}"] = Range1d(i - (N - 1), i + 1)
p.extra_y_ranges = ranges

meas_e = np.asarray(MEASURED_E, dtype=float)
meas_t = np.asarray(MEASURED_T, dtype=float)
for i in range(N):
    rn = f"panel{i}"
    p.line(meas_e, meas_t, y_range_name=rn, line_color="black", line_width=2.6, line_join="round")
    p.line(np.asarray(PANEL_MODELS[i], dtype=float), np.asarray(PANEL_MODEL_T[i], dtype=float),
           y_range_name=rn, line_color="#ff0000", line_width=2.6, line_join="round")
    p.segment(x0=BREAK_X0, y0=[BREAK_Y0] * 2, x1=BREAK_X1, y1=[BREAK_Y1] * 2,
              y_range_name=rn, line_color="black", line_width=2)
    for txt, yy in ((PANEL_TITLES[i], TITLE_Y[i]), (PANEL_CREDITS[i], CREDIT_Y[i])):
        p.add_layout(Label(x=1158.5, y=yy, y_range_name=rn, text=txt, text_font=FONT,
                           text_font_style="bold", text_font_size="42px", text_color="black",
                           text_align="left", text_baseline="alphabetic"))

open("out.html", "w").write(file_html(p, INLINE))
